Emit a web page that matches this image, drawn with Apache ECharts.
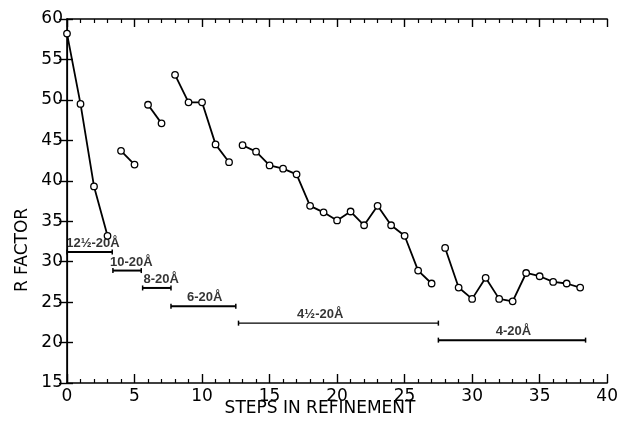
<!DOCTYPE html>
<html>
<head>
<meta charset="utf-8">
<script src="https://cdn.jsdelivr.net/npm/echarts@6/dist/echarts.min.js"></script>
<style>html,body{margin:0;padding:0;background:#fff}#c{width:621px;height:424px}</style>
</head>
<body>
<div id="c"></div>
<script>
// ---- data ----
var seg1X = [0, 1, 2, 3];
var seg1Y = [58.2, 49.5, 39.3, 33.2];
var seg2X = [4, 5];
var seg2Y = [43.7, 42.0];
var seg3X = [6, 7];
var seg3Y = [49.4, 47.1];
var seg4X = [8, 9, 10, 11, 12];
var seg4Y = [53.1, 49.7, 49.7, 44.5, 42.3];
var seg5X = [13, 14, 15, 16, 17, 18, 19, 20, 21, 22, 23, 24, 25, 26, 27];
var seg5Y = [44.4, 43.6, 41.9, 41.5, 40.8, 36.9, 36.1, 35.1, 36.2, 34.5, 36.9, 34.5, 33.2, 28.9, 27.3];
var seg6X = [28, 29, 30, 31, 32, 33, 34, 35, 36, 37, 38];
var seg6Y = [31.7, 26.8, 25.4, 28.0, 25.4, 25.1, 28.6, 28.2, 27.5, 27.3, 26.8];

var rangeLabels = ['12½-20Å', '10-20Å', '8-20Å', '6-20Å', '4½-20Å', '4-20Å'];
var rangeStart = [0, 3.4, 5.6, 7.7, 12.7, 27.5];
var rangeEnd = [3.35, 5.5, 7.7, 12.5, 27.5, 38.4];
var rangeLevel = [31.2, 28.9, 26.75, 24.5, 22.4, 20.3];
var rangeLabelX = [1.92, 4.76, 6.97, 10.2, 18.75, 33.06];

var xTicks = [0, 5, 10, 15, 20, 25, 30, 35, 40];
var yTicks = [15, 20, 25, 30, 35, 40, 45, 50, 55, 60];
var xTitle = 'STEPS IN REFINEMENT';
var yTitle = 'R FACTOR';

// ---- chart ----
var chart = echarts.init(document.getElementById('c'), null, {renderer: 'canvas'});
var font = 'DejaVu Sans';

function pairs(xs, ys) { return xs.map(function (x, i) { return [x, ys[i]]; }); }

var segs = [[seg1X, seg1Y], [seg2X, seg2Y], [seg3X, seg3Y], [seg4X, seg4Y], [seg5X, seg5Y], [seg6X, seg6Y]];
var series = segs.map(function (s) {
  return {
    type: 'line', data: pairs(s[0], s[1]), symbol: 'circle', symbolSize: 6.5,
    lineStyle: {color: '#000', width: 1.8},
    itemStyle: {color: '#fff', borderColor: '#000', borderWidth: 1.3},
    z: 5, animation: false
  };
});
rangeLabels.forEach(function (lab, i) {
  series.push({
    type: 'line', data: [[rangeStart[i], rangeLevel[i]], [rangeEnd[i], rangeLevel[i]]],
    symbol: 'rect', symbolSize: [1.5, 5],
    lineStyle: {color: '#000', width: i === 4 ? 1.4 : 2},
    itemStyle: {color: '#000'}, animation: false
  });
});
series.push({
  type: 'scatter', symbolSize: 0, animation: false,
  data: rangeLabels.map(function (lab, i) { return [rangeLabelX[i], rangeLevel[i], lab]; }),
  label: {
    show: true, position: 'top', distance: 2,
    formatter: function (p) { return p.data[2]; },
    fontFamily: 'Liberation Sans', fontSize: 13, fontWeight: 'bold', color: '#000'
  }
});

var axisLine = {show: true, lineStyle: {color: '#000', width: 1.6}};
chart.setOption({
  animation: false,
  backgroundColor: '#fff',
  grid: {left: 67, right: 13, top: 19, bottom: 41, containLabel: false},
  xAxis: [{
    type: 'value', min: 0, max: 40, interval: 5, position: 'bottom',
    axisLine: axisLine,
    axisTick: {show: true, inside: true, length: 9, lineStyle: {color: '#000', width: 1.4}},
    minorTick: {show: true, splitNumber: 5, length: 4, lineStyle: {color: '#000', width: 1.2}},
    axisLabel: {color: '#000', fontFamily: font, fontSize: 17, margin: 5,
      formatter: function (v) { return xTicks.indexOf(v) >= 0 ? String(v) : ''; }},
    splitLine: {show: false}
  }, {
    type: 'value', min: 0, max: 40, interval: 5, position: 'top',
    axisLine: axisLine,
    axisTick: {show: true, inside: true, length: 8, lineStyle: {color: '#000', width: 1.4}},
    minorTick: {show: true, splitNumber: 5, length: 4, lineStyle: {color: '#000', width: 1.2}},
    axisLabel: {show: false}, splitLine: {show: false}
  }],
  yAxis: [{
    type: 'value', min: 15, max: 60, interval: 5, position: 'left',
    axisLine: axisLine,
    axisTick: {show: true, inside: true, length: 6, lineStyle: {color: '#000', width: 1.4}},
    axisLabel: {color: '#000', fontFamily: font, fontSize: 17, margin: 4,
      formatter: function (v) { return yTicks.indexOf(v) >= 0 ? String(v) : ''; }},
    splitLine: {show: false}
  }, {
    type: 'value', min: 15, max: 60, interval: 5, position: 'right',
    axisLine: {show: true, lineStyle: {color: '#000', width: 1.2}},
    axisTick: {show: true, inside: true, length: 8, lineStyle: {color: '#000', width: 1.4}},
    axisLabel: {show: false}, splitLine: {show: false}
  }],
  graphic: [{
    type: 'text', x: 320, y: 409,
    style: {text: xTitle, fontFamily: font, fontSize: 17, fill: '#000', align: 'center', verticalAlign: 'middle'}
  }, {
    type: 'text', x: 23, y: 250, rotation: Math.PI / 2,
    style: {text: yTitle, fontFamily: font, fontSize: 17, fill: '#000', align: 'center', verticalAlign: 'middle'}
  }],
  series: series
});
</script>
</body>
</html>
